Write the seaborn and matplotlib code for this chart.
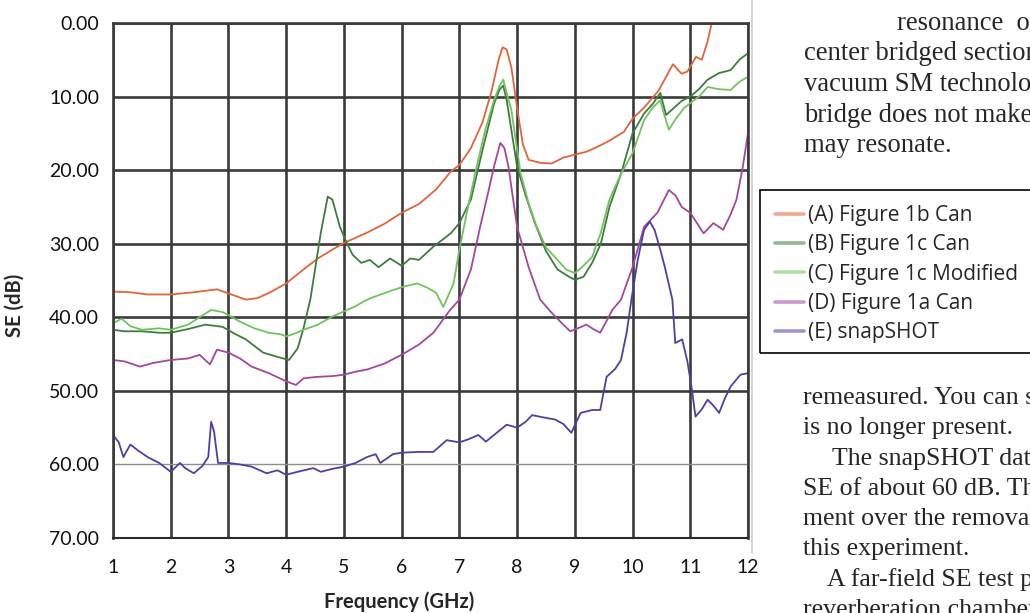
import pandas as pd
import matplotlib
matplotlib.use('Agg')
import matplotlib.pyplot as plt
import seaborn as sns
from matplotlib.lines import Line2D
from matplotlib.patches import Rectangle

# Dane (SE w dB, częstotliwość w GHz)
nazwy = ['(A) Figure 1b Can', '(B) Figure 1c Can', '(C) Figure 1c Modified',
         '(D) Figure 1a Can', '(E) snapSHOT']
kolory = ['#e2643a', '#3d7c3d', '#72c160', '#a4469c', '#4a42a2']

f_a = [1.0, 1.3, 1.6, 2.0, 2.4, 2.8, 3.05, 3.3, 3.5, 3.7, 4.0, 4.3, 4.55, 4.8, 5.0, 5.2, 5.4, 5.7,
       6.0, 6.3, 6.6, 6.85, 7.0, 7.2, 7.4, 7.55, 7.68, 7.75, 7.82, 7.9, 8.0, 8.1, 8.2, 8.4, 8.6,
       8.8, 9.0, 9.2, 9.4, 9.6, 9.85, 10.0, 10.2, 10.45, 10.7, 10.85, 10.95, 11.1, 11.2, 11.3, 11.4]
se_a = [36.5, 36.6, 36.9, 36.9, 36.6, 36.2, 36.9, 37.6, 37.4, 36.7, 35.4, 33.5, 32.0, 30.8, 29.9,
        29.2, 28.5, 27.3, 25.8, 24.6, 22.6, 20.2, 19.3, 17.0, 13.5, 9.5, 5.0, 3.3, 3.6, 6.0, 11.5,
        16.5, 18.6, 19.0, 19.1, 18.3, 17.9, 17.5, 16.8, 16.0, 14.8, 13.0, 11.5, 9.2, 5.6, 6.9, 6.6,
        4.6, 5.0, 2.5, -1.0]

f_b = [1.0, 1.2, 1.5, 1.8, 2.0, 2.3, 2.6, 2.9, 3.1, 3.3, 3.6, 3.9, 4.05, 4.2, 4.3, 4.42, 4.6,
       4.72, 4.8, 4.93, 5.05, 5.15, 5.3, 5.45, 5.6, 5.8, 6.0, 6.15, 6.3, 6.55, 6.85, 7.0, 7.2,
       7.4, 7.6, 7.7, 7.76, 7.82, 7.9, 8.0, 8.15, 8.3, 8.5, 8.7, 8.9, 9.0, 9.15, 9.3, 9.45, 9.6,
       9.8, 10.0, 10.2, 10.35, 10.48, 10.58, 10.68, 10.85, 11.0, 11.15, 11.3, 11.5, 11.7, 11.85, 12.0]
se_b = [41.7, 41.9, 41.9, 42.1, 42.1, 41.6, 41.0, 41.3, 42.2, 43.0, 44.8, 45.5, 45.8, 44.2, 41.5,
        37.5, 28.5, 23.6, 24.0, 27.7, 29.9, 31.5, 32.6, 32.2, 33.2, 32.0, 33.0, 32.0, 32.2, 30.4,
        28.6, 27.2, 24.0, 17.3, 11.0, 9.0, 8.5, 10.5, 14.5, 19.5, 23.5, 27.0, 31.0, 33.5, 34.5,
        34.9, 34.5, 32.6, 30.0, 25.0, 20.5, 15.0, 12.3, 11.0, 9.5, 12.5, 11.8, 10.6, 10.0, 9.0,
        7.7, 6.8, 6.4, 5.0, 4.1]

f_c = [1.0, 1.15, 1.3, 1.5, 1.8, 2.0, 2.3, 2.5, 2.7, 2.9, 3.0, 3.2, 3.45, 3.7, 3.9, 4.0, 4.15,
       4.3, 4.55, 4.8, 5.0, 5.2, 5.4, 5.6, 5.85, 6.05, 6.27, 6.45, 6.6, 6.72, 6.8, 6.9, 7.0, 7.15,
       7.3, 7.45, 7.6, 7.7, 7.76, 7.82, 7.9, 8.06, 8.2, 8.34, 8.5, 8.7, 8.85, 9.0, 9.15, 9.3, 9.45,
       9.6, 9.8, 10.0, 10.2, 10.35, 10.48, 10.55, 10.63, 10.75, 10.9, 11.0, 11.15, 11.3, 11.5,
       11.7, 11.85, 12.0]
se_c = [40.8, 40.2, 41.2, 41.7, 41.5, 41.7, 41.0, 40.0, 39.0, 39.3, 39.7, 40.6, 41.5, 42.1, 42.3,
        42.6, 42.2, 41.7, 41.0, 39.9, 39.2, 38.5, 37.6, 37.0, 36.3, 35.8, 35.4, 36.0, 36.7, 38.6,
        37.2, 35.4, 30.8, 25.0, 19.5, 14.5, 10.5, 8.5, 7.7, 9.5, 11.8, 20.4, 24.5, 27.7, 30.5,
        32.2, 33.5, 34.0, 33.0, 31.8, 28.5, 24.0, 20.5, 17.7, 13.2, 11.5, 10.5, 12.5, 14.5, 13.0,
        11.5, 10.9, 10.0, 8.7, 9.0, 9.1, 8.0, 7.3]

f_d = [1.0, 1.2, 1.47, 1.7, 2.0, 2.3, 2.5, 2.68, 2.8, 3.0, 3.2, 3.4, 3.7, 4.0, 4.17, 4.3, 4.53,
       4.8, 5.0, 5.2, 5.4, 5.7, 6.0, 6.3, 6.55, 6.84, 7.0, 7.2, 7.36, 7.5, 7.6, 7.71, 7.78, 7.85,
       8.0, 8.2, 8.4, 8.6, 8.8, 8.92, 9.05, 9.2, 9.32, 9.44, 9.55, 9.65, 9.8, 10.0, 10.2, 10.43,
       10.63, 10.75, 10.85, 11.0, 11.1, 11.23, 11.4, 11.57, 11.7, 11.8, 11.9, 12.0]
se_d = [45.8, 46.0, 46.7, 46.2, 45.8, 45.6, 45.1, 46.4, 44.4, 44.8, 45.6, 46.7, 47.6, 48.7, 49.2,
        48.3, 48.1, 48.0, 47.8, 47.4, 47.1, 46.3, 45.1, 43.7, 42.1, 39.0, 37.6, 33.5, 27.7, 23.0,
        19.5, 16.3, 17.0, 19.5, 27.7, 33.2, 37.6, 39.4, 41.0, 41.9, 41.5, 41.0, 41.6, 42.1, 40.5,
        39.0, 37.6, 33.2, 27.7, 25.8, 22.7, 23.5, 25.0, 25.8, 27.0, 28.6, 27.2, 28.1, 26.0, 24.0,
        20.0, 15.0]

f_e = [1.0, 1.1, 1.18, 1.3, 1.45, 1.6, 1.8, 2.0, 2.16, 2.25, 2.4, 2.55, 2.65, 2.7, 2.75, 2.82,
       3.0, 3.2, 3.4, 3.66, 3.85, 4.0, 4.2, 4.47, 4.6, 4.8, 5.0, 5.2, 5.4, 5.55, 5.63, 5.85, 6.0,
       6.3, 6.55, 6.78, 7.0, 7.15, 7.33, 7.46, 7.6, 7.82, 8.0, 8.15, 8.26, 8.45, 8.66, 8.8, 8.94,
       9.1, 9.3, 9.44, 9.55, 9.7, 9.8, 9.9, 9.98, 10.09, 10.2, 10.3, 10.38, 10.47, 10.56, 10.69,
       10.74, 10.86, 10.95, 11.03, 11.09, 11.2, 11.3, 11.4, 11.5, 11.6, 11.7, 11.87, 12.0]
se_e = [56.0, 57.0, 59.0, 57.3, 58.2, 59.0, 59.8, 61.0, 59.8, 60.5, 61.2, 60.2, 59.0, 54.2, 55.5,
        59.8, 59.8, 60.0, 60.3, 61.2, 60.8, 61.4, 61.0, 60.5, 61.0, 60.6, 60.3, 59.8, 59.0, 58.6,
        59.8, 58.6, 58.4, 58.3, 58.3, 56.7, 57.0, 56.6, 56.0, 56.9, 56.0, 54.6, 55.0, 54.2, 53.3,
        53.6, 53.9, 54.5, 55.7, 53.0, 52.6, 52.6, 48.1, 47.0, 45.8, 42.0, 37.6, 32.2, 28.1, 27.0,
        28.1, 30.5, 33.2, 37.6, 43.5, 43.0, 46.0, 49.9, 53.5, 52.5, 51.2, 52.0, 53.0, 51.0, 49.4,
        47.8, 47.6]

y_ticks = [0, 10, 20, 30, 40, 50, 60, 70]
x_ticks = list(range(1, 13))

tekst_gora = ['resonance  of', 'center bridged section', 'vacuum SM technology',
              'bridge does not make', 'may resonate.']
tekst_dol = ['remeasured. You can see', 'is no longer present.', 'The snapSHOT data',
             'SE of about 60 dB. The', 'ment over the removal', 'this experiment.',
             'A far-field SE test per', 'reverberation chamber']


def px(x, y):
    # piksele obrazka -> ułamek figury
    return x / 1030, 1 - y / 613


sns.set_style('white')
plt.rcParams['font.family'] = ['Lato', 'DejaVu Sans']

df = pd.concat([pd.DataFrame({'f': f, 'se': s, 'seria': n})
                for f, s, n in zip([f_a, f_b, f_c, f_d, f_e], [se_a, se_b, se_c, se_d, se_e], nazwy)])

fig = plt.figure(figsize=(10.3, 6.13), dpi=100)
x0, y0 = px(113, 538)
x1, y1 = px(748, 23)
ax = fig.add_axes([x0, y0, x1 - x0, y1 - y0])

sns.lineplot(data=df, x='f', y='se', hue='seria', palette=dict(zip(nazwy, kolory)),
             estimator=None, sort=False, lw=1.3, legend=False, ax=ax)

ax.set_xlim(1, 12)
ax.set_ylim(70, 0)
ax.set_xticks(x_ticks)
ax.set_yticks(y_ticks)
ax.set_yticklabels([f'{v:.2f}' for v in y_ticks])
ax.set_xlabel('')
ax.set_ylabel('')
ax.grid(True, color='#3a3a3a', lw=1.9)
grid_y = ax.get_ygridlines()
grid_y[6].set_color('#8e8e8e')
grid_y[6].set_linewidth(1.0)
grid_y[7].set_linewidth(1.4)
for s in ax.spines.values():
    s.set_visible(True)
    s.set_color('#3a3a3a')
    s.set_linewidth(1.9)
ax.spines['bottom'].set_linewidth(1.5)
ax.spines['bottom'].set_color('#2a2a2a')
ax.tick_params(direction='out', length=6, width=1.4, color='#3a3a3a', labelsize=14,
               labelcolor='#111111')
ax.tick_params(axis='x', pad=9)
ax.tick_params(axis='y', pad=4)

fig.text(*px(15, 305), 'SE (dB)', rotation=90, ha='center', va='center',
         fontsize=14.5, fontweight='bold')
fig.text(*px(399, 602), 'Frequency (GHz)', ha='center', va='center',
         fontsize=14.5, fontweight='bold')

# legenda w ramce obok wykresu
uchwyty = [Line2D([0], [0], color=c, lw=2.6, alpha=0.55) for c in kolory]
fig.legend(uchwyty, nazwy, loc='upper left', bbox_to_anchor=px(775, 205), frameon=False,
           prop={'family': 'Open Sans', 'size': 15}, handlelength=1.4, handletextpad=0.2,
           labelspacing=0.4, borderpad=0, borderaxespad=0)
rx, ry = px(760, 353)
fig.add_artist(Rectangle((rx, ry), 300 / 1030, 163 / 613, transform=fig.transFigure,
                         fill=False, ec='black', lw=1.2))
fig.add_artist(Line2D([752 / 1030] * 2, [1 - 553 / 613, 1.0], transform=fig.transFigure,
                      color='#cccccc', lw=1.2))

# tekst artykułu po prawej stronie
for i, linia in enumerate(tekst_gora):
    x = 897 if i == 0 else 804
    fig.text(*px(x, 30 + 30.5 * i), linia, fontsize=19.2, family='Liberation Serif',
             va='baseline', ha='left')
for i, linia in enumerate(tekst_dol):
    x = {2: 832, 6: 827}.get(i, 803)
    fig.text(*px(x, 404 + 30.3 * i), linia, fontsize=18.6, family='Liberation Serif',
             va='baseline', ha='left')

fig.savefig('out.png', dpi=100)
